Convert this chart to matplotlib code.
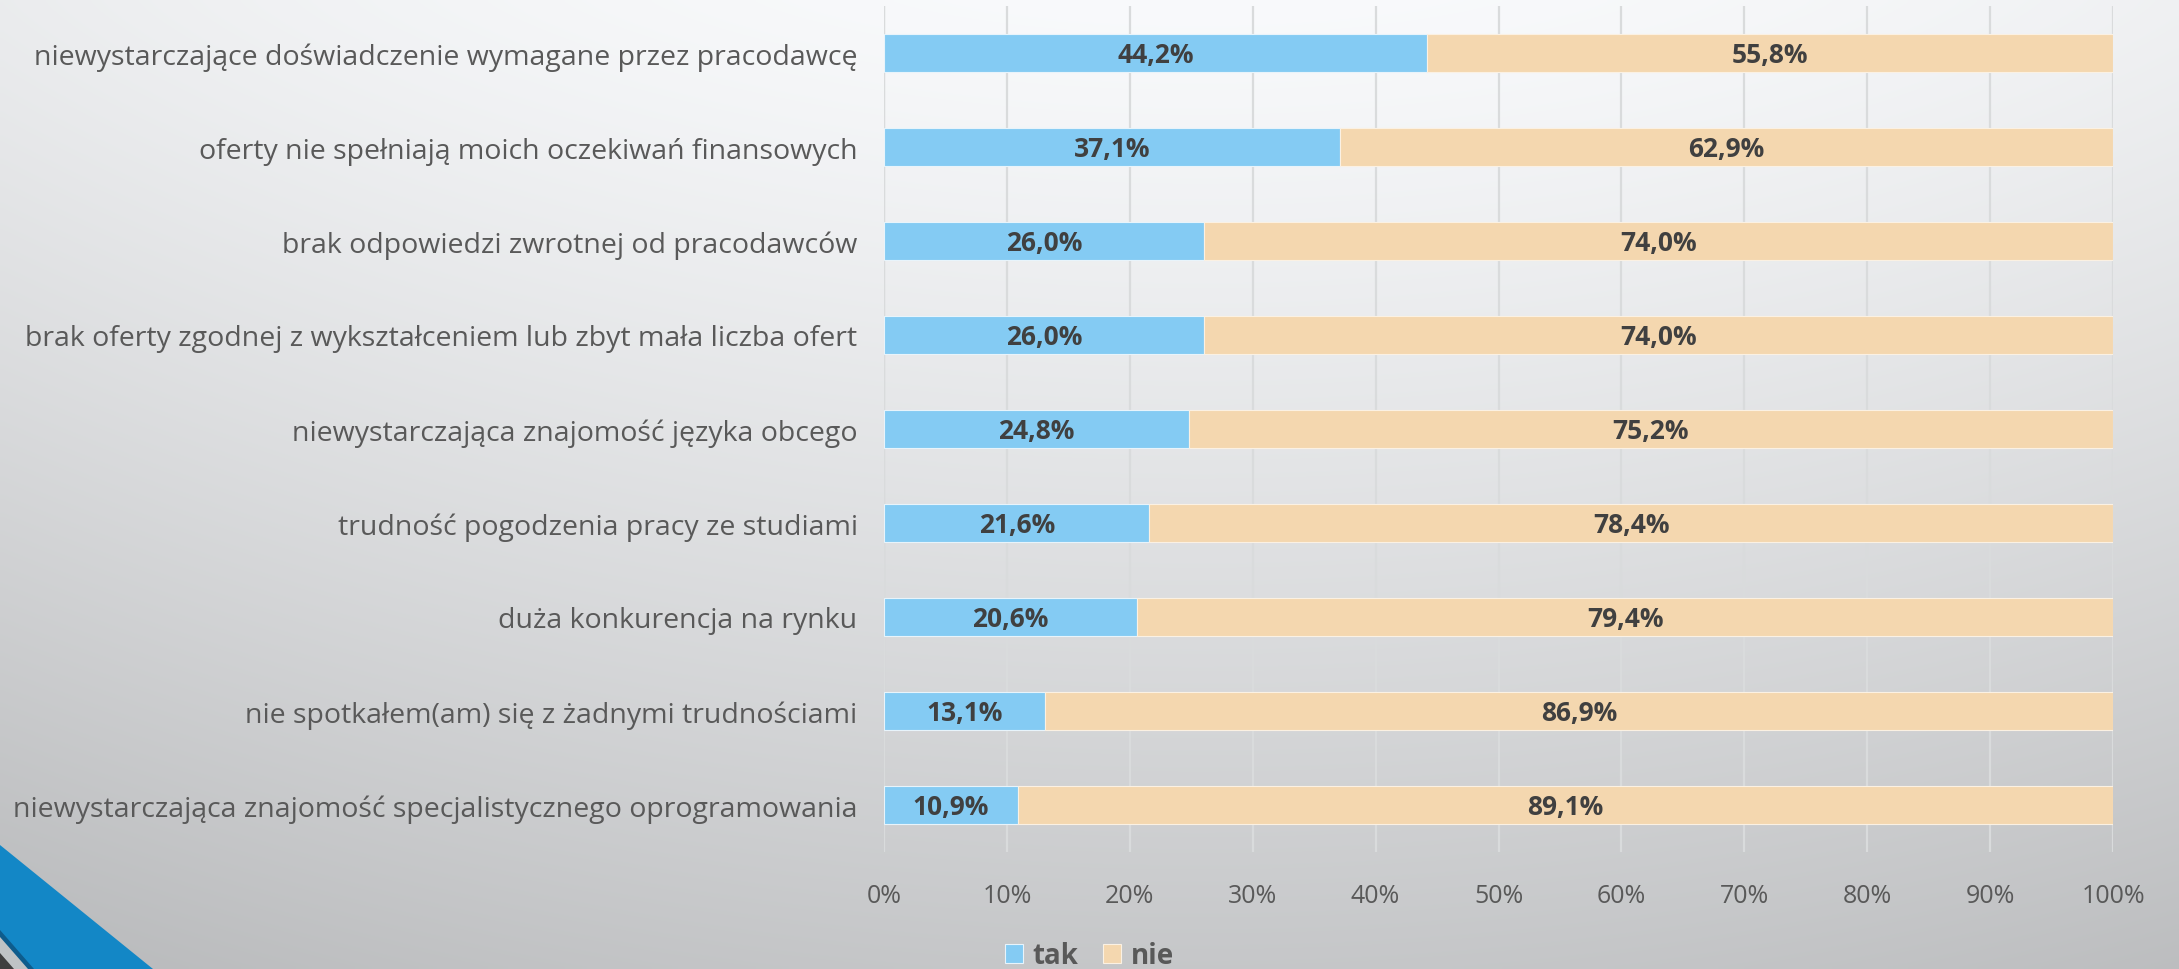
import numpy as np
import matplotlib
matplotlib.use("Agg")
import matplotlib.pyplot as plt
from matplotlib.patches import Polygon

plt.rcParams['font.family'] = ['Open Sans', 'DejaVu Sans']

categories = [
    "niewystarczające doświadczenie wymagane przez pracodawcę",
    "oferty nie spełniają moich oczekiwań finansowych",
    "brak odpowiedzi zwrotnej od pracodawców",
    "brak oferty zgodnej z wykształceniem lub zbyt mała liczba ofert",
    "niewystarczająca znajomość języka obcego",
    "trudność pogodzenia pracy ze studiami",
    "duża konkurencja na rynku",
    "nie spotkałem(am) się z żadnymi trudnościami",
    "niewystarczająca znajomość specjalistycznego oprogramowania",
]
tak = [44.2, 37.1, 26.0, 26.0, 24.8, 21.6, 20.6, 13.1, 10.9]
nie = [55.8, 62.9, 74.0, 74.0, 75.2, 78.4, 79.4, 86.9, 89.1]
series_names = ["tak", "nie"]
xticks = [0, 10, 20, 30, 40, 50, 60, 70, 80, 90, 100]

blue = "#84CBF3"
tan = "#F4D7AF"
text_col = "#595959"
label_col = "#404040"

W, H = 2179, 970
fig = plt.figure(figsize=(W / 100, H / 100), dpi=100)

# gradient background
bg = fig.add_axes([0, 0, 1, 1])
yy, xx = np.mgrid[0:1:200j, 0:1:400j]
light = 0.975 - 0.2 * yy ** 1.2 - 0.18 * (xx - 0.55) ** 2
rgb = np.dstack([light, light + 0.005, light + 0.012]).clip(0, 1)
bg.imshow(rgb, extent=[0, W, H, 0], aspect='auto', interpolation='bilinear')
bg.set_xlim(0, W)
bg.set_ylim(H, 0)
bg.axis('off')

# corner decoration
bg.add_patch(Polygon([(0, 846), (153, 970), (0, 970)], closed=True, color="#1387C6", lw=0))
bg.add_patch(Polygon([(0, 931), (34, 970), (0, 970)], closed=True, color="#0E5C8C", lw=0))
bg.add_patch(Polygon([(0, 938), (28, 970), (0, 970)], closed=True, color="#BFC3C5", lw=0))
bg.add_patch(Polygon([(0, 954), (14, 970), (0, 970)], closed=True, color="#3F3F3F", lw=0))

ax = fig.add_axes([884 / W, 1 - 853 / H, (2113 - 884) / W, (853 - 7) / H])
ax.patch.set_alpha(0)

y = np.arange(len(categories))
h = 0.4
b1 = ax.barh(y, tak, height=h, color=blue, edgecolor="#e8f4fb", linewidth=0.8, label=series_names[0], zorder=3)
b2 = ax.barh(y, nie, left=tak, height=h, color=tan, edgecolor="#fbf1e3", linewidth=0.8, label=series_names[1], zorder=3)

for i in range(len(categories)):
    ax.text(tak[i] / 2, y[i] + 0.02, f"{tak[i]:.1f}%".replace(".", ","), ha='center', va='center',
            fontsize=19, fontweight='bold', color=label_col, zorder=4)
    ax.text(tak[i] + nie[i] / 2, y[i] + 0.02, f"{nie[i]:.1f}%".replace(".", ","), ha='center', va='center',
            fontsize=19, fontweight='bold', color=label_col, zorder=4)

ax.set_xlim(0, 100)
ax.set_ylim(len(categories) - 0.5, -0.5)
ax.set_xticks(xticks)
ax.set_xticklabels([f"{t}%" for t in xticks])
ax.set_yticks(y)
ax.set_yticklabels(categories)
ax.tick_params(axis='x', length=0, pad=22, labelsize=18, labelcolor=text_col)
ax.tick_params(axis='y', length=0, pad=19, labelsize=20.5, labelcolor=text_col)
ax.grid(axis='x', color="#d9dbdc", linewidth=1.6, zorder=0)
ax.axvline(0, color="#d2d4d5", linewidth=1.6, zorder=1)
for s in ax.spines.values():
    s.set_visible(False)

fig.legend(handles=[b1, b2], labels=series_names, loc='center', bbox_to_anchor=(0.5, 1 - 957 / H),
           ncol=2, frameon=False, prop={'size': 20, 'weight': 'bold'}, labelcolor=text_col,
           handlelength=0.65, handleheight=0.65, handletextpad=0.35, columnspacing=0.9)

fig.savefig("out.png", dpi=100)
